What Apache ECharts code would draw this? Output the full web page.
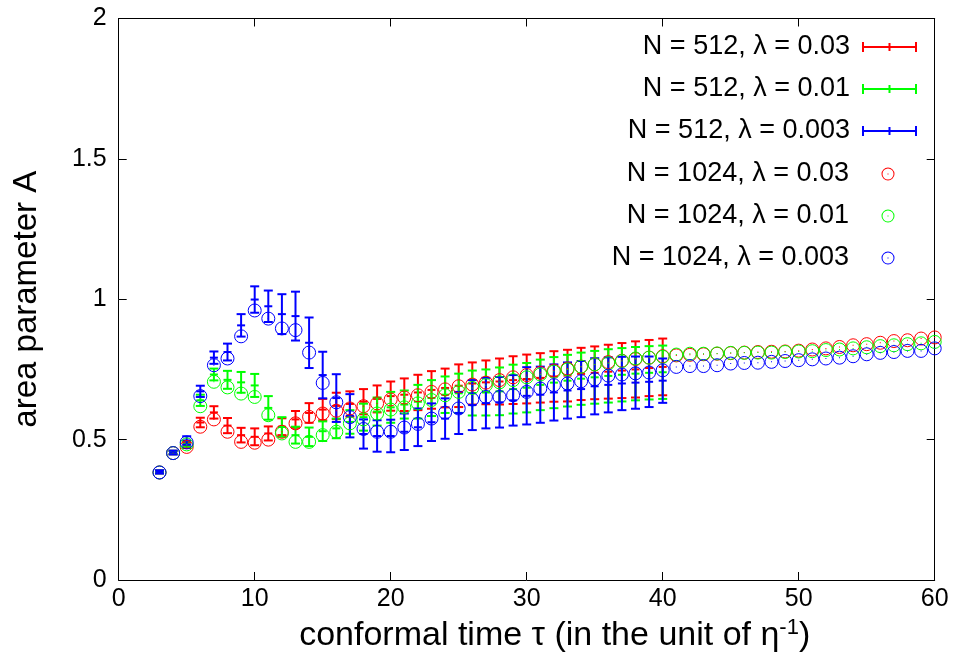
<!DOCTYPE html>
<html><head><meta charset="utf-8">
<script src="https://cdn.jsdelivr.net/npm/echarts@6/dist/echarts.min.js"></script>
<style>html,body{margin:0;padding:0;background:#fff}#c{width:955px;height:658px}</style>
</head><body><div id="c"></div>
<script>
// ---------- data ----------
const tau512 = [3,4,5,6,7,8,9,10,11,12,13,14,15,16,17,18,19,20,21,22,23,24,25,26,27,28,29,30,31,32,33,34,35,36,37,38,39,40];
const tau1024 = [3,4,5,6,7,8,9,10,11,12,13,14,15,16,17,18,19,20,21,22,23,24,25,26,27,28,29,30,31,32,33,34,35,36,37,38,39,40,41,42,43,44,45,46,47,48,49,50,51,52,53,54,55,56,57,58,59,60];

const red512 = [0.385,0.454,0.480,0.561,0.597,0.550,0.516,0.510,0.522,0.546,0.572,0.595,0.607,0.620,0.627,0.635,0.645,0.655,0.660,0.668,0.677,0.684,0.692,0.700,0.704,0.707,0.712,0.716,0.720,0.725,0.728,0.734,0.738,0.742,0.746,0.750,0.755,0.759];
const red512Err = [0.005,0.006,0.010,0.017,0.022,0.027,0.026,0.030,0.025,0.030,0.030,0.035,0.038,0.047,0.045,0.045,0.048,0.052,0.058,0.063,0.067,0.069,0.076,0.075,0.078,0.082,0.085,0.087,0.088,0.090,0.092,0.093,0.094,0.096,0.098,0.100,0.100,0.101];

const green512 = [0.385,0.454,0.485,0.640,0.732,0.713,0.704,0.693,0.613,0.545,0.516,0.510,0.530,0.540,0.563,0.580,0.600,0.615,0.625,0.635,0.648,0.660,0.665,0.666,0.668,0.672,0.680,0.685,0.695,0.703,0.710,0.717,0.722,0.727,0.731,0.735,0.738,0.740];
const green512Err = [0.005,0.006,0.010,0.020,0.021,0.032,0.037,0.041,0.042,0.035,0.030,0.033,0.035,0.035,0.042,0.048,0.050,0.055,0.050,0.060,0.064,0.065,0.070,0.080,0.082,0.085,0.087,0.088,0.090,0.091,0.092,0.093,0.094,0.095,0.095,0.095,0.095,0.095];

const blue512 = [0.385,0.454,0.497,0.672,0.792,0.812,0.907,0.999,0.975,0.947,0.940,0.845,0.730,0.648,0.585,0.520,0.513,0.513,0.528,0.544,0.562,0.575,0.595,0.623,0.630,0.633,0.640,0.656,0.660,0.668,0.675,0.680,0.690,0.695,0.700,0.703,0.706,0.710];
const blue512Err = [0.006,0.007,0.015,0.020,0.022,0.030,0.040,0.047,0.056,0.071,0.087,0.090,0.083,0.085,0.077,0.052,0.056,0.058,0.065,0.067,0.067,0.072,0.075,0.089,0.090,0.090,0.090,0.102,0.100,0.100,0.100,0.100,0.100,0.098,0.095,0.093,0.090,0.079];

const red1024 = [0.383,0.452,0.474,0.546,0.572,0.528,0.492,0.489,0.500,0.528,0.558,0.581,0.593,0.603,0.611,0.619,0.629,0.643,0.650,0.658,0.670,0.679,0.690,0.696,0.703,0.712,0.722,0.730,0.738,0.746,0.753,0.760,0.768,0.776,0.781,0.787,0.792,0.797,0.800,0.802,0.804,0.806,0.808,0.810,0.812,0.813,0.814,0.817,0.821,0.825,0.830,0.836,0.840,0.845,0.851,0.854,0.860,0.864];
const green1024 = [0.383,0.452,0.483,0.619,0.706,0.686,0.664,0.652,0.587,0.522,0.492,0.492,0.516,0.528,0.558,0.572,0.593,0.607,0.615,0.629,0.641,0.658,0.670,0.684,0.694,0.704,0.712,0.722,0.732,0.742,0.750,0.760,0.768,0.772,0.780,0.789,0.792,0.795,0.803,0.806,0.806,0.807,0.809,0.809,0.810,0.810,0.812,0.814,0.815,0.819,0.821,0.825,0.829,0.833,0.836,0.840,0.843,0.848];
const blue1024 = [0.383,0.452,0.490,0.655,0.765,0.789,0.868,0.960,0.931,0.896,0.890,0.810,0.702,0.633,0.580,0.538,0.528,0.528,0.543,0.556,0.575,0.596,0.611,0.643,0.652,0.652,0.658,0.670,0.682,0.694,0.700,0.708,0.715,0.728,0.732,0.736,0.739,0.747,0.759,0.762,0.762,0.765,0.771,0.773,0.774,0.777,0.780,0.783,0.786,0.789,0.792,0.797,0.804,0.809,0.812,0.816,0.816,0.825];

const names = ['N = 512, λ = 0.03','N = 512, λ = 0.01','N = 512, λ = 0.003','N = 1024, λ = 0.03','N = 1024, λ = 0.01','N = 1024, λ = 0.003'];
const xTicks = [0,10,20,30,40,50,60];
const yTicks = [0,0.5,1,1.5,2];

// ---------- styling ----------
const FONT = '"Liberation Sans", Arial, Helvetica, sans-serif';
const RED = '#ff0000', GREEN = '#00ff00', BLUE = '#0000ff';

function errData(xs, ys, es){ return xs.map((x,i)=>[x, ys[i], ys[i]-es[i], ys[i]+es[i]]); }
function ptData(xs, ys){ return xs.map((x,i)=>[x, ys[i]]); }

function errRender(color){
  return function(params, api){
    const x = api.value(0), y = api.value(1), lo = api.value(2), hi = api.value(3);
    const pLo = api.coord([x, lo]), pHi = api.coord([x, hi]), pC = api.coord([x, y]);
    const cw = 4.5, mw = 4;
    const st = {stroke: color, lineWidth: 2, fill: 'none'};
    return {type:'group', children:[
      {type:'line', shape:{x1:pLo[0], y1:pLo[1], x2:pHi[0], y2:pHi[1]}, style:st},
      {type:'line', shape:{x1:pLo[0]-cw, y1:pLo[1], x2:pLo[0]+cw, y2:pLo[1]}, style:st},
      {type:'line', shape:{x1:pHi[0]-cw, y1:pHi[1], x2:pHi[0]+cw, y2:pHi[1]}, style:st},
      {type:'line', shape:{x1:pC[0]-mw, y1:pC[1], x2:pC[0]+mw, y2:pC[1]}, style:st}
    ]};
  };
}
function circRender(color){
  return function(params, api){
    const p = api.coord([api.value(0), api.value(1)]);
    return {type:'group', children:[
      {type:'circle', shape:{cx:p[0], cy:p[1], r:6.5}, style:{stroke:color, lineWidth:1, fill:'none'}},
      {type:'rect', shape:{x:p[0]-0.5, y:p[1]-0.5, width:1, height:1}, style:{fill:color}}
    ]};
  };
}

const ERR_ICON = 'path://M0,0L2,0L2,4L26.5,4L26.5,1L28.5,1L28.5,4L53,4L53,0L55,0L55,10L53,10L53,6L28.5,6L28.5,9L26.5,9L26.5,6L2,6L2,10L0,10Z';
const CIRC_ICON = 'path://M0,6.5A6.5,6.5 0 1,0 13,6.5A6.5,6.5 0 1,0 0,6.5ZM1,6.5A5.5,5.5 0 1,1 12,6.5A5.5,5.5 0 1,1 1,6.5ZM6,6L7,6L7,7L6,7Z';

const axisLine = {show:true, onZero:false, lineStyle:{color:'#000', width:1}};
const axisTick = {show:true, inside:true, length:8, lineStyle:{color:'#000', width:1}};

const chart = echarts.init(document.getElementById('c'), null, {renderer:'canvas'});
chart.setOption({
  animation:false,
  backgroundColor:'#fff',
  grid:{left:118.7, right:20.3, top:18.5, bottom:78, containLabel:false},
  legend:[
    {orient:'vertical', align:'right', right:38, top:32, padding:0, itemGap:12,
     itemWidth:55, itemHeight:10, selectedMode:false,
     textStyle:{fontSize:27, fontFamily:FONT, color:'#000', lineHeight:30, padding:[0,7,0,0]},
     data:[
       {name:names[0], icon:ERR_ICON, itemStyle:{color:RED}},
       {name:names[1], icon:ERR_ICON, itemStyle:{color:GREEN}},
       {name:names[2], icon:ERR_ICON, itemStyle:{color:BLUE}}
     ]},
    {orient:'vertical', align:'right', right:60.5, top:159, padding:0, itemGap:12,
     itemWidth:13, itemHeight:13, selectedMode:false,
     textStyle:{fontSize:27, fontFamily:FONT, color:'#000', lineHeight:30, padding:[0,27.5,0,0]},
     data:[
       {name:names[3], icon:CIRC_ICON, itemStyle:{color:RED}},
       {name:names[4], icon:CIRC_ICON, itemStyle:{color:GREEN}},
       {name:names[5], icon:CIRC_ICON, itemStyle:{color:BLUE}}
     ]}
  ],
  xAxis:[
    {type:'value', position:'bottom', min:xTicks[0], max:xTicks[xTicks.length-1], interval:xTicks[1]-xTicks[0],
     axisLine, axisTick, splitLine:{show:false},
     axisLabel:{fontSize:25, fontFamily:FONT, color:'#000', margin:7},
     name:'{t|conformal time τ (in the unit of η}{s|-1}{t|)}', nameLocation:'middle', nameGap:29,
     nameTextStyle:{fontSize:34, fontFamily:FONT, color:'#000', padding:[0,0,0,56],
       rich:{t:{fontSize:34, fontFamily:FONT, color:'#000'},
             s:{fontSize:22, fontFamily:FONT, color:'#000', verticalAlign:'top', padding:[0,0,15,0]}}}},
    {type:'value', position:'top', min:xTicks[0], max:xTicks[xTicks.length-1], interval:xTicks[1]-xTicks[0],
     axisLine, axisTick, splitLine:{show:false}, axisLabel:{show:false}}
  ],
  yAxis:[
    {type:'value', position:'left', min:yTicks[0], max:yTicks[yTicks.length-1], interval:yTicks[1]-yTicks[0],
     axisLine, axisTick, splitLine:{show:false},
     axisLabel:{fontSize:25, fontFamily:FONT, color:'#000', margin:12},
     name:'area parameter A', nameLocation:'middle', nameGap:75,
     nameTextStyle:{fontSize:33, fontFamily:FONT, color:'#000'}},
    {type:'value', position:'right', min:yTicks[0], max:yTicks[yTicks.length-1], interval:yTicks[1]-yTicks[0],
     axisLine, axisTick, splitLine:{show:false}, axisLabel:{show:false}}
  ],
  series:[
    {name:names[0], type:'custom', renderItem:errRender(RED), itemStyle:{color:RED}, data:errData(tau512, red512, red512Err), encode:{x:0, y:[1,2,3]}},
    {name:names[1], type:'custom', renderItem:errRender(GREEN), itemStyle:{color:GREEN}, data:errData(tau512, green512, green512Err), encode:{x:0, y:[1,2,3]}},
    {name:names[2], type:'custom', renderItem:errRender(BLUE), itemStyle:{color:BLUE}, data:errData(tau512, blue512, blue512Err), encode:{x:0, y:[1,2,3]}},
    {name:names[3], type:'custom', renderItem:circRender(RED), itemStyle:{color:RED}, data:ptData(tau1024, red1024), encode:{x:0, y:1}},
    {name:names[4], type:'custom', renderItem:circRender(GREEN), itemStyle:{color:GREEN}, data:ptData(tau1024, green1024), encode:{x:0, y:1}},
    {name:names[5], type:'custom', renderItem:circRender(BLUE), itemStyle:{color:BLUE}, data:ptData(tau1024, blue1024), encode:{x:0, y:1}}
  ]
});
</script>
</body></html>
